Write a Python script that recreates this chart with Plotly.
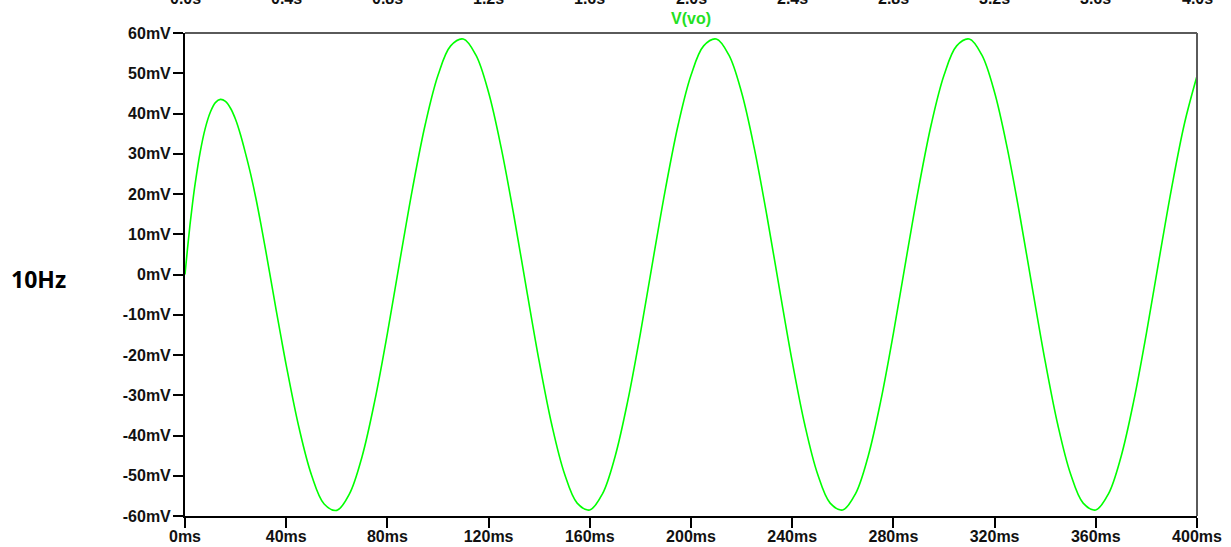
import plotly.graph_objects as go

# ---- data (time in ms, V(vo) in mV) ----
t_ms = [0, 1, 2, 3, 4, 6, 8, 10, 12, 14, 16, 18, 20, 22, 24, 26, 28, 30, 32, 34, 36, 38,
        40, 45, 50, 55, 60, 65, 70, 75, 80, 85, 90, 95, 100, 105, 110, 115, 120, 125,
        130, 135, 140, 145, 150, 155, 160, 165, 170, 175, 180, 185, 190, 195, 200, 205,
        210, 215, 220, 225, 230, 235, 240, 245, 250, 255, 260, 265, 270, 275, 280, 285,
        290, 295, 300, 305, 310, 315, 320, 325, 330, 335, 340, 345, 350, 355, 360, 365,
        370, 375, 380, 385, 390, 395, 400]
vo_mv = [0.0, 6.5, 12.5, 17.8, 22.5, 30.4, 36.3, 40.3, 42.7, 43.5, 43.0, 41.3, 38.5, 34.6,
         29.9, 24.8, 19.0, 12.5, 5.6, -1.5, -8.7, -15.7,
         -22.5, -37.9, -49.8, -57.0, -58.6, -54.5, -45.2, -31.4, -14.6, 3.7, 21.6, 37.4,
         49.5, 56.8, 58.5, 54.5, 45.2, 31.4, 14.6, -3.7, -21.6, -37.4, -49.5, -56.8,
         -58.5, -54.5, -45.2, -31.4, -14.6, 3.7, 21.6, 37.4, 49.5, 56.8, 58.5, 54.5,
         45.2, 31.4, 14.6, -3.7, -21.6, -37.4, -49.5, -56.8, -58.5, -54.5, -45.2, -31.4,
         -14.6, 3.7, 21.6, 37.4, 49.5, 56.8, 58.5, 54.5, 45.2, 31.4, 14.6, -3.7, -21.6,
         -37.4, -49.5, -56.8, -58.5, -54.5, -45.2, -31.4, -14.6, 3.7, 21.6, 37.4, 49.3]

x_tickvals = [0, 40, 80, 120, 160, 200, 240, 280, 320, 360, 400]
x_ticktext = ["0ms", "40ms", "80ms", "120ms", "160ms", "200ms", "240ms", "280ms",
              "320ms", "360ms", "400ms"]
y_tickvals = [60, 50, 40, 30, 20, 10, 0, -10, -20, -30, -40, -50, -60]
y_ticktext = ["60mV", "50mV", "40mV", "30mV", "20mV", "10mV", "0mV", "-10mV", "-20mV",
              "-30mV", "-40mV", "-50mV", "-60mV"]
top_labels = ["0.0s", "0.4s", "0.8s", "1.2s", "1.6s", "2.0s", "2.4s", "2.8s", "3.2s",
              "3.6s", "4.0s"]
trace_name = "V(vo)"
side_label = "10Hz"

GREEN = "#00ff00"
tick_font = dict(family="Arial, Liberation Sans", size=16, color="#111111", weight="bold")

fig = go.Figure()
fig.add_trace(go.Scatter(x=t_ms, y=vo_mv, mode="lines", name=trace_name,
                         line=dict(color=GREEN, width=1.6, shape="spline", smoothing=1.0),
                         showlegend=False, hoverinfo="skip"))

axis_common = dict(showline=True, linecolor="black", linewidth=2, ticks="outside",
                   ticklen=10, tickwidth=2, tickcolor="black", showgrid=False,
                   zeroline=False, tickfont=tick_font, fixedrange=True, automargin=False)

fig.update_xaxes(range=[0, 400], tickvals=x_tickvals, ticktext=x_ticktext,
                 ticklabelstandoff=-5, **axis_common)
fig.update_yaxes(range=[-60, 60], tickvals=y_tickvals, ticktext=y_ticktext,
                 ticklabelstandoff=-1, **axis_common)

annotations = [
    dict(text=trace_name, xref="paper", yref="paper", x=0.5, y=1.029, yanchor="middle",
         xanchor="center", showarrow=False,
         font=dict(family="Arial, Liberation Sans", size=16, color="#22e022", weight="bold")),
    dict(text=side_label, xref="paper", yref="paper", x=-0.1443, y=0.4907,
         xanchor="center", yanchor="middle", showarrow=False,
         font=dict(family="Open Sans", size=23, color="black", weight="bold")),
]
for xv, lab in zip(x_tickvals, top_labels):
    annotations.append(dict(text=lab, xref="x", yref="paper", x=xv, y=1.050,
                            xanchor="center", yanchor="bottom", showarrow=False,
                            font=tick_font))

fig.update_layout(
    width=1231, height=547,
    margin=dict(l=185, r=34, t=33, b=31),
    paper_bgcolor="white", plot_bgcolor="white",
    annotations=annotations,
    shapes=[
        dict(type="line", xref="paper", yref="paper", x0=0, x1=1, y0=1, y1=1,
             line=dict(color="#5a5a5a", width=2), layer="above"),
        dict(type="line", xref="paper", yref="paper", x0=1, x1=1, y0=0, y1=1,
             line=dict(color="#5a5a5a", width=2), layer="above"),
    ],
)

fig.write_html("out.html")
